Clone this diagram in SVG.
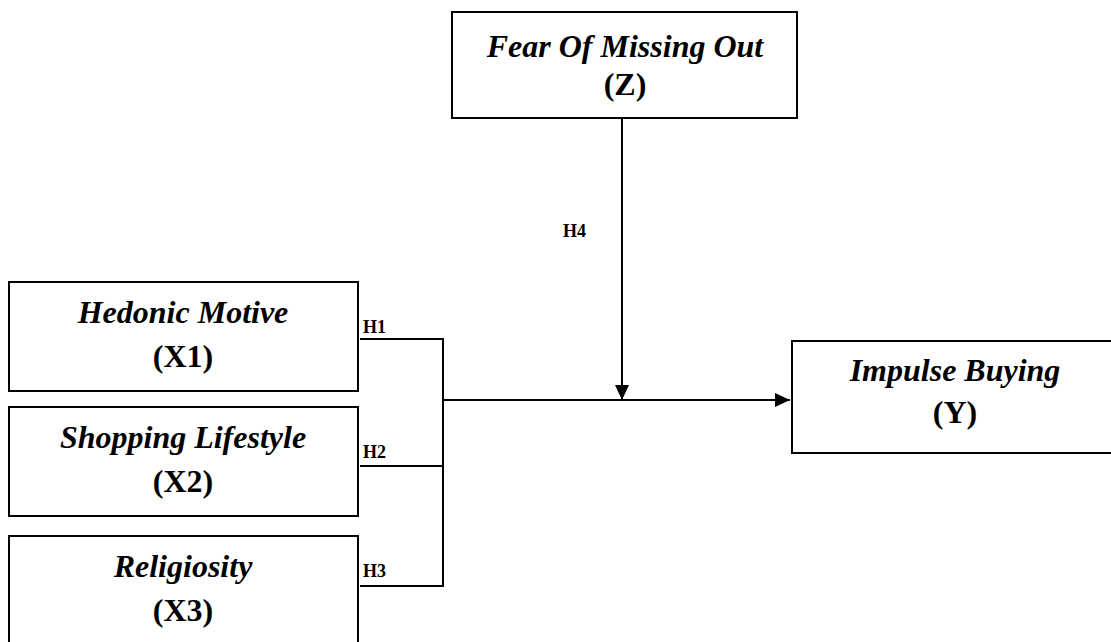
<svg xmlns="http://www.w3.org/2000/svg" width="1111" height="642" viewBox="0 0 1111 642">
<style>
.box{fill:#fff;stroke:#000;stroke-width:2}
text{font-family:"Liberation Serif","Times New Roman","DejaVu Serif",serif;font-weight:bold;fill:#000}
.t{font-size:32px;text-anchor:middle}
.i{font-style:italic}
.h{font-size:18px}
.ln{stroke:#000;stroke-width:2;fill:none}
</style>
<defs>
<marker id="ar" markerWidth="16" markerHeight="14" refX="15" refY="7" orient="auto" markerUnits="userSpaceOnUse">
<path d="M0,0 L15,7 L0,14 Z" fill="#000"/>
</marker>
</defs>
<rect width="1111" height="642" fill="#fff"/>
<g id="fomo">
<rect class="box" x="452" y="12" width="345" height="106"/>
<text class="t i" x="625" y="57">Fear Of Missing Out</text>
<text class="t" x="625" y="95">(Z)</text>
</g>
<g id="x1">
<rect class="box" x="9" y="282" width="349" height="109"/>
<text class="t i" x="183" y="323">Hedonic Motive</text>
<text class="t" x="183" y="367">(X1)</text>
</g>
<g id="x2">
<rect class="box" x="9" y="407" width="349" height="109"/>
<text class="t i" x="183" y="448">Shopping Lifestyle</text>
<text class="t" x="183" y="492">(X2)</text>
</g>
<g id="x3">
<rect class="box" x="9" y="536" width="349" height="120"/>
<text class="t i" x="183" y="577">Religiosity</text>
<text class="t" x="183" y="621">(X3)</text>
</g>
<g id="y">
<rect class="box" x="792" y="341" width="330" height="112"/>
<text class="t i" x="955" y="381">Impulse Buying</text>
<text class="t" x="955" y="423">(Y)</text>
</g>
<g id="connectors">
<path class="ln" d="M360,339 H443 V586 H360"/>
<path class="ln" d="M360,466 H443"/>
<path class="ln" d="M443,400 H790" marker-end="url(#ar)"/>
<path class="ln" d="M622,118 V400" marker-end="url(#ar)"/>
</g>
<g id="labels">
<text class="h" x="363" y="333">H1</text>
<text class="h" x="363" y="458">H2</text>
<text class="h" x="363" y="577">H3</text>
<text class="h" x="563" y="237">H4</text>
</g>
</svg>
